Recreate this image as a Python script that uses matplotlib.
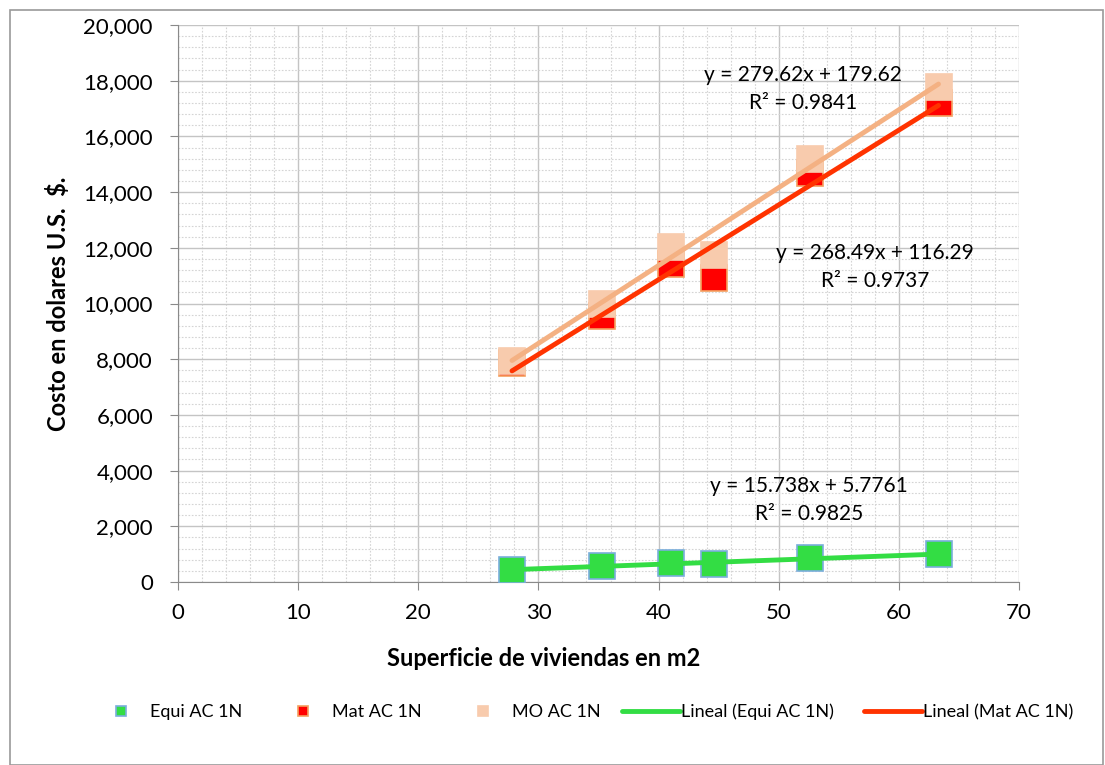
import numpy as np
import matplotlib.pyplot as plt
from matplotlib.ticker import MultipleLocator, FuncFormatter
from matplotlib.patches import Rectangle

# Superficie (m2) de cada vivienda
superficie = [27.8, 35.3, 41.0, 44.6, 52.6, 63.3]

# Costos en US$
equi = [430, 575, 670, 645, 850, 995]
mat = [7850, 9560, 11420, 10900, 14690, 17200]
mo = [7950, 10000, 12040, 11740, 15200, 17780]

# Coeficientes de las lineas de tendencia (pendiente, intercepto, R2)
fit_equi = (15.738, 5.7761, 0.9825)
fit_mat = (268.49, 116.29, 0.9737)
fit_mo = (279.62, 179.62, 0.9841)

W, H = 1105, 765
plt.rcParams['font.family'] = ['Lato', 'DejaVu Sans']

fig = plt.figure(figsize=(W / 100, H / 100), dpi=100)
ax = fig.add_axes([178 / W, 1 - 582 / H, (1019 - 178) / W, (582 - 25) / H])

# marco exterior
fig.patches.append(Rectangle((10 / W, 0), 1 - 12 / W, 1 - 10 / H,
                             transform=fig.transFigure, fill=False,
                             edgecolor='#9a9a9a', lw=1.2))

ax.set_xlim(0, 70)
ax.set_ylim(0, 20000)
ax.xaxis.set_major_locator(MultipleLocator(10))
ax.xaxis.set_minor_locator(MultipleLocator(2))
ax.yaxis.set_major_locator(MultipleLocator(2000))
ax.yaxis.set_minor_locator(MultipleLocator(400))
ax.yaxis.set_major_formatter(FuncFormatter(lambda v, p: f"{int(v):,}"))
ax.grid(which='major', color='#c4c4c4', lw=1.0)
ax.grid(which='minor', color='#d4d4d4', lw=0.8, ls=(0, (1.5, 1.5)))
ax.set_axisbelow(True)
for s in ['top', 'right']:
    ax.spines[s].set_visible(False)
for s in ['left', 'bottom']:
    ax.spines[s].set_color('#8a8a8a')
ax.tick_params(which='major', length=6, color='#8a8a8a', labelsize=16)
ax.tick_params(axis='y', pad=12)
ax.tick_params(axis='x', pad=9)
ax.tick_params(which='minor', length=0)

xs = np.array(superficie)
xline = np.array([xs.min(), xs.max()])

ms = 19
h_equi, = ax.plot(superficie, equi, 's', ms=ms, mfc='#33dd44', mec='#7aaedc', mew=1.2,
                  ls='none', zorder=3)
h_mat, = ax.plot(superficie, mat, 's', ms=ms, mfc='#ff0000', mec='#f4a060', mew=1.2,
                 ls='none', zorder=3)
h_mo, = ax.plot(superficie, mo, 's', ms=ms, mfc='#f8cbad', mec='#f8cbad', mew=1.2,
                ls='none', zorder=3)

h_leq, = ax.plot(xline, fit_equi[0] * xline + fit_equi[1], color='#33dd44', lw=3.5,
                 zorder=4, solid_capstyle='round')
h_lmat, = ax.plot(xline, fit_mat[0] * xline + fit_mat[1], color='#ff3300', lw=3.5,
                  zorder=4, solid_capstyle='round')
ax.plot(xline, fit_mo[0] * xline + fit_mo[1], color='#f4b183', lw=3.5,
        zorder=4, solid_capstyle='round')

def eq_text(fit, x, y):
    ax.text(x, y, f"y = {fit[0]}x + {fit[1]}\nR² = {fit[2]}", ha='center',
            va='center', fontsize=15, linespacing=1.45, zorder=5)

eq_text(fit_mo, 52.0, 17700)
eq_text(fit_mat, 58.0, 11310)
eq_text(fit_equi, 52.5, 2945)

ax.set_xlabel('Superficie de viviendas en m2', fontsize=17, fontweight='bold')
ax.xaxis.set_label_coords((544 - 178) / (1019 - 178), -(647 - 582) / (582 - 25))
ax.set_ylabel('Costo en dolares U.S.  $.', fontsize=17, fontweight='bold')
ax.yaxis.set_label_coords(-(178 - 70) / (1019 - 178), 0.5)

# leyenda: cada entrada en su posicion
entries = [(h_equi, 'Equi AC 1N', 108), (h_mat, 'Mat AC 1N', 290),
           (h_mo, 'MO AC 1N', 470), (h_leq, 'Lineal (Equi AC 1N)', 622),
           (h_lmat, 'Lineal (Mat AC 1N)', 864)]
for h, lab, px in entries:
    is_line = h.get_linestyle() != 'None'
    fig.legend([h], [lab], loc='center left', bbox_to_anchor=(px / W, 1 - 712 / H),
               frameon=False, fontsize=13, markerscale=0.4,
               handlelength=3.2 if is_line else 1.4,
               handletextpad=0.05 if is_line else 0.9, borderaxespad=0, borderpad=0)

fig.savefig('out.png', dpi=100)
